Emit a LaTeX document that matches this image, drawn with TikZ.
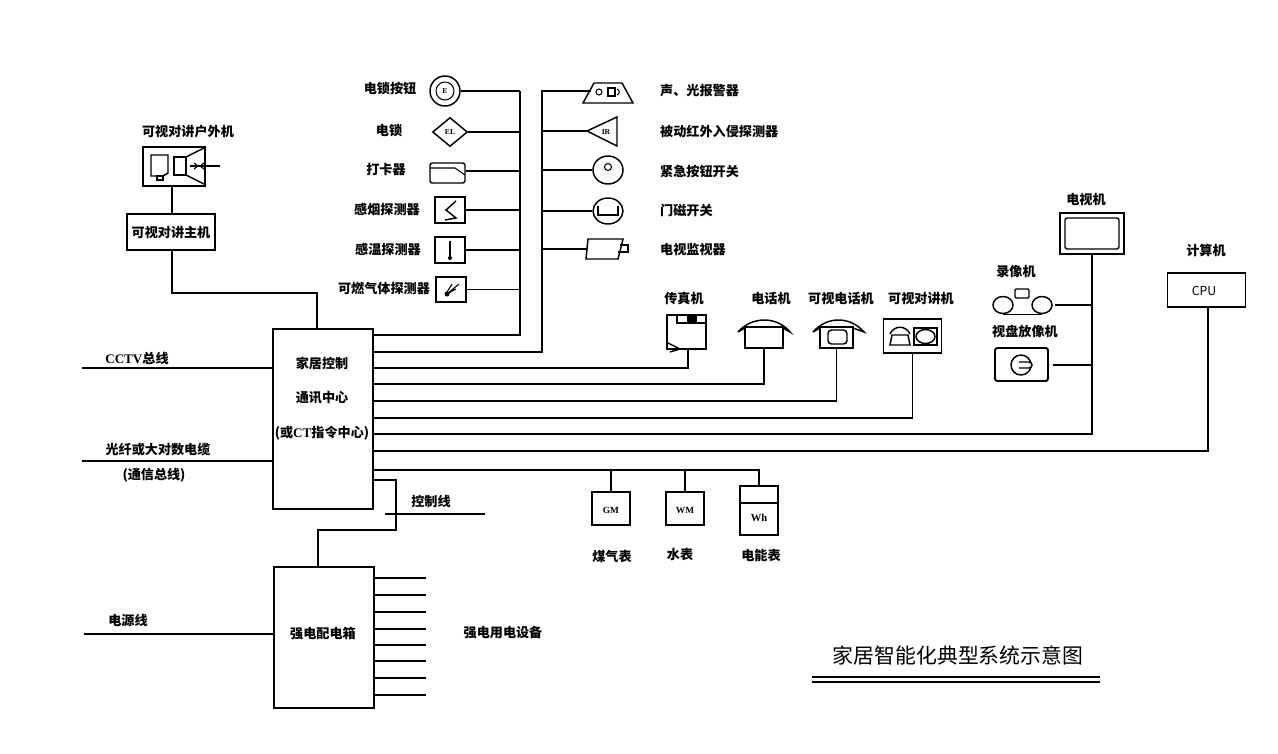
\documentclass[tikz,border=0pt]{standalone}
\usepackage{fontspec}
\setmainfont{Noto Sans CJK SC}
\newfontfamily\latinserif{Liberation Serif}
\usepackage{tikz}
\usetikzlibrary{shapes.geometric, arrows, positioning}

\begin{document}
\begin{tikzpicture}[
    x=0.03cm, y=-0.03cm,
    wire/.style={line width=1.25pt},
    thin wire/.style={line width=0.9pt},
    devbox/.style 2 args={rectangle, draw, line width=1.25pt, minimum width=#1*0.03cm, minimum height=#2*0.03cm, inner sep=0pt},
    label/.style={font=\fontsize{11.2pt}{13pt}\selectfont\bfseries, inner sep=0pt},
    tag/.style={font=\fontsize{6.5pt}{7pt}\selectfont\bfseries\latinserif, inner sep=0pt}
]
\useasboundingbox (0,0) rectangle (1278,754);

% Center: control boxes
\node[devbox={100}{180}] (hub) at (323,419) {};
\node[devbox={100}{141}] (power) at (324,637.5) {};
\node[label] (hubA) at (322,363) {家居控制};
\node[label] (hubB) at (322,398) {通讯中心};
\node[label] (hubC) at (322,433) {(或{\latinserif CT}指令中心)};
\node[label] (powerT) at (323,634) {强电配电箱};
\foreach \i/\y in {1/335, 2/352, 3/368, 4/384, 5/401, 6/418, 7/434, 8/451, 9/470, 10/480}
    \coordinate (row\i) at (373,\y);

% Left: door station
\node[devbox={62}{39}] (outdoor) at (174,166.5) {};
\node[devbox={88}{36}] (indoor) at (171,232) {};
\node[label] (outdoorT) at (188,132) {可视对讲户外机};
\node[label] (indoorT) at (171,232) {可视对讲主机};
\draw[wire] (151,155) -- (168,155) -- (168,173) -- (163,176) -- (151,176) -- cycle;
\draw[thin wire] (157,176) rectangle (163,180);
\draw[wire] (174,157) rectangle (186,175);
\draw[wire] (186,157) -- (204,148) (186,175) -- (204,184);
\draw[wire] (190,166) -- (220,166);
\draw[thin wire] (194,163) -- (198,166) -- (194,169) (204,163) -- (200,166) -- (204,169);
\draw[wire] (172,186) -- (indoor.north -| 172,0);
\coordinate (hubTop) at (317,329);
\draw[wire] (172,250) |- (317,293) -- (hubTop);

% Left: trunk lines
\coordinate (cctvEnd) at (82,368);
\coordinate (fibreEnd) at (82,461);
\coordinate (mainsEnd) at (84,634);
\draw[wire] (cctvEnd) -- (cctvEnd -| hub.west);
\draw[wire] (fibreEnd) -- (fibreEnd -| hub.west);
\draw[wire] (mainsEnd) -- (mainsEnd -| power.west);
\node[label] (cctvT) at (137,358) {{\latinserif CCTV}总线};
\node[label] (fibreT) at (158,450) {光纤或大对数电缆};
\node[label] (fibreS) at (154,475) {(通信总线)};
\node[label] (mainsT) at (128,620) {电源线};

% Top: door lock and detectors
\coordinate (busL) at (520,91);
\node[circle, draw, line width=1.25pt, minimum size=30*0.03cm, inner sep=0pt] (ebtn) at (445,91) {};
\node[circle, draw, line width=0.9pt, minimum size=18*0.03cm, inner sep=0pt, tag] (ebtnIn) at (445,91) {E};
\node[diamond, draw, line width=1.25pt, aspect=1.2, minimum width=35*0.03cm, minimum height=29*0.03cm, inner sep=0pt, tag] (lock) at (450,132) {EL};
\node[rectangle, draw, rounded corners=2pt, line width=1.25pt, minimum width=35*0.03cm, minimum height=20*0.03cm, inner sep=0pt] (card) at (447.5,173) {};
\node[devbox={30}{26}] (smoke) at (450,210) {};
\node[devbox={30}{26}] (heat) at (450,250) {};
\node[devbox={30}{25}] (gas) at (451,289.5) {};
\draw[thin wire] (430,168) -- (455,168) -- (465,175);
\draw[wire] (456,201) -- (446,210) -- (456,218) -- (445,220);
\draw[wire] (450,241) -- (450,258);
\fill (450,258) circle (2);
\fill (447,294) circle (2.5);
\draw[thin wire] (447,294) -- (459,284) (447,294) -- (456,289) (447,292) -- (452,284);
\node[label] (ebtnT) at (390,88) {电锁按钮};
\node[label] (lockT) at (389,131) {电锁};
\node[label] (cardT) at (386,170) {打卡器};
\node[label] (smokeT) at (387,209) {感烟探测器};
\node[label] (heatT) at (388,249) {感温探测器};
\node[label] (gasT) at (384,288) {可燃气体探测器};
\draw[wire] (ebtn) -- (busL);
\draw[wire] (lock) -- (lock -| busL);
\draw[wire] (card.east |- 0,171) -- (busL |- 0,171);
\draw[wire] (smoke) -- (smoke -| busL);
\draw[wire] (heat) -- (heat -| busL);
\draw[wire] (gas) -- (gas -| busL);
\draw[wire] (row1) -| (busL);

% Top: alarms and sensors
\coordinate (busR) at (542,91);
\coordinate (alarmIn) at (591,91);
\coordinate (irTip) at (587,131);
\coordinate (monIn) at (587,249);
\draw[wire] (583,103) -- (594,83) -- (622,83) -- (633,103) -- cycle;
\draw[thin wire] (599,92) circle (3);
\draw[thin wire] (608,88) rectangle (615,96);
\draw[thin wire] (617,89) .. controls (620,90) and (620,94) .. (617,95);
\draw[wire] (irTip) -- (617,117) -- (617,146) -- cycle;
\node[tag] (irT) at (606,132) {IR};
\node[ellipse, draw, line width=1.25pt, minimum width=30*0.03cm, minimum height=28*0.03cm, inner sep=0pt] (panic) at (608,170) {};
\draw[thin wire] (608,167) circle (3.5);
\node[ellipse, draw, line width=1.25pt, minimum width=30*0.03cm, minimum height=26*0.03cm, inner sep=0pt] (door) at (608,211) {};
\draw[thin wire] (598,206) -- (598,215) -- (618,215) -- (618,206);
\draw[wire] (588,239) -- (623,239) -- (618,259) -- (586,259) -- cycle;
\draw[thin wire] (620,245) -- (628,245) -- (628,252) -- (618,252);
\node[label, anchor=west] (alarmT) at (660,91) {声、光报警器};
\node[label, anchor=west] (irL) at (660,131) {被动红外入侵探测器};
\node[label, anchor=west] (panicT) at (660,171) {紧急按钮开关};
\node[label, anchor=west] (doorT) at (660,210) {门磁开关};
\node[label, anchor=west] (monT) at (660,250) {电视监视器};
\draw[wire] (row2) -| (busR) -- (alarmIn);
\draw[wire] (irTip -| busR) -- (irTip);
\draw[wire] (panic -| busR) -- (panic);
\draw[wire] (door -| busR) -- (door);
\draw[wire] (monIn -| busR) -- (monIn);

% Right: phones
\node[devbox={39}{34}] (fax) at (686.5,332) {};
\draw[wire] (677,315) -- (677,323) -- (706,323);
\fill (687,315) rectangle (697,323);
\draw[wire] (668,343) -- (680,349) -- (670,352) (670,349) -- (680,349);
\fill (695,349) circle (1.5);
\node[devbox={38}{21}] (phone) at (764,337.5) {};
\draw[wire] (738,332) .. controls (752,316) and (777,316) .. (790,332) -- (783,328) (738,332) -- (745,328);
\node[devbox={33}{21}] (vphone) at (836.5,337.5) {};
\draw[wire] (813,332) .. controls (827,316) and (850,316) .. (864,332) -- (853,328) (813,332) -- (820,328);
\draw[wire, rounded corners=3pt] (828,330) rectangle (847,344);
\node[devbox={58}{34}] (talk) at (912.5,336) {};
\draw[wire] (890,345) -- (892,335) -- (908,335) -- (910,345) -- cycle;
\draw[wire] (890,334) .. controls (894,325) and (906,325) .. (910,334);
\draw[wire] (914,328) rectangle (937,345);
\node[ellipse, draw, line width=1.25pt, minimum width=19*0.03cm, minimum height=14*0.03cm, inner sep=0pt] (talkEye) at (925.5,336.5) {};
\node[label] (faxT) at (684,299) {传真机};
\node[label] (phoneT) at (771,299) {电话机};
\node[label] (vphoneT) at (841,299) {可视电话机};
\node[label] (talkT) at (921,299) {可视对讲机};
\draw[wire] (row3) -| (fax.south -| 688,0);
\draw[wire] (row4) -| (phone.south);
\draw[wire] (row5) -| (vphone.south);
\draw[wire] (row6) -| (talk.south);

% Right: video and computer
\node[devbox={64}{41}] (tv) at (1092,233.5) {};
\draw[wire, rounded corners=2pt] (1065,218) rectangle (1119,249);
\node[devbox={14}{9}, rounded corners=1pt] (vcrTop) at (1022,293.5) {};
\node[ellipse, draw, line width=1.25pt, minimum width=20*0.03cm, minimum height=17*0.03cm, inner sep=0pt] (reelL) at (1003,305) {};
\node[ellipse, draw, line width=1.25pt, minimum width=20*0.03cm, minimum height=17*0.03cm, inner sep=0pt] (reelR) at (1042,305) {};
\draw[wire] (reelL.south) -- (reelR.south);
\node[devbox={53}{33}, rounded corners=2pt, line width=1.6pt] (disc) at (1021.5,364.5) {};
\node[circle, draw, line width=1.25pt, minimum size=20*0.03cm, inner sep=0pt] (discEye) at (1021,365) {};
\fill[white] (1023,362) rectangle (1034,368);
\draw[wire] (1029,362) -- (1019,362) (1029,368) -- (1019,368) (1029,362) .. controls (1033,362) and (1033,368) .. (1029,368);
\node[devbox={78}{34}] (cpu) at (1206.5,290) {};
\node[font=\fontsize{10.5pt}{12pt}\selectfont, inner sep=0pt] (cpuT) at (1204,291) {CPU};
\node[label] (tvT) at (1086,200) {电视机};
\node[label] (compT) at (1206,250) {计算机};
\node[label] (vcrT) at (1016,272) {录像机};
\node[label] (discT) at (1025,331) {视盘放像机};
\coordinate (vcrOut) at (1055,305);
\coordinate (discOut) at (1053,365);
\draw[wire] (row7) -| (tv.south);
\draw[wire] (row8) -| (cpu.south -| 1208,0);
\draw[wire] (vcrOut) -- (vcrOut -| tv.south);
\draw[wire] (discOut) -- (discOut -| tv.south);

% Bottom: meters
\node[devbox={38}{33}] (gasM) at (611,508.5) {};
\node[devbox={38}{33}] (waterM) at (685,508.5) {};
\node[devbox={38}{49}] (powerM) at (759,510.5) {};
\draw[wire] (powerM.west |- 0,503) -- (powerM.east |- 0,503);
\node[tag, font=\fontsize{8pt}{9pt}\selectfont\bfseries\latinserif] (gasV) at (611,510) {GM};
\node[tag, font=\fontsize{8pt}{9pt}\selectfont\bfseries\latinserif] (waterV) at (685,510) {WM};
\node[tag, font=\fontsize{9pt}{10pt}\selectfont\bfseries\latinserif] (powerV) at (759,518) {Wh};
\node[label] (gasMT) at (612,557) {煤气表};
\node[label] (waterMT) at (680,555) {水表};
\node[label] (powerMT) at (761,555) {电能表};
\draw[wire] (row9) -| (powerM.north);
\draw[wire] (gasM.north) -- (gasM.north |- row9);
\draw[wire] (waterM.north) -- (waterM.north |- row9);

% Bottom: control line and mains outputs
\coordinate (ctrlA) at (385,514);
\coordinate (ctrlB) at (485,514);
\draw[wire] (row10) -| (396,530) -| (318,567);
\draw[thin wire] (ctrlA) -- (ctrlB);
\node[label] (ctrlT) at (431,501) {控制线};
\foreach \y in {578,595,612,629,645,661,678,695}
    \draw[wire] (power.east |- 0,\y) -- (426,\y);
\node[label] (loadT) at (503,633) {强电用电设备};

% Title
\node[font=\fontsize{17.8pt}{20pt}\selectfont, inner sep=0pt] (title) at (958,655) {家居智能化典型系统示意图};
\coordinate (ulA) at (812,677);
\coordinate (ulB) at (1100,677);
\coordinate (ulC) at (812,682);
\coordinate (ulD) at (1100,682);
\draw[line width=1.8pt] (ulA) -- (ulB);
\draw[thin wire] (ulC) -- (ulD);
\end{tikzpicture}
\end{document}
